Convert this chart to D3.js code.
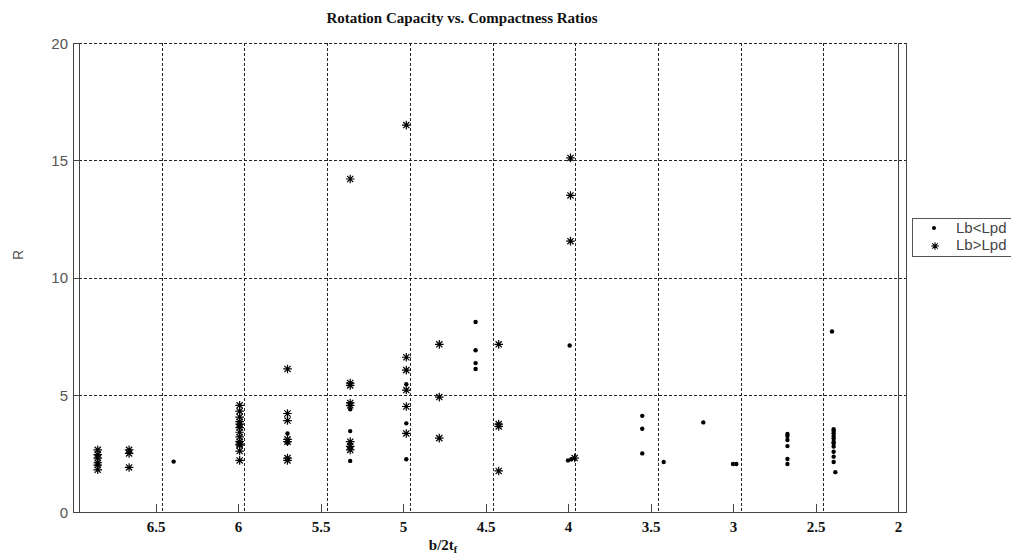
<!DOCTYPE html>
<html><head><meta charset="utf-8">
<script src="https://cdn.jsdelivr.net/npm/d3@7"></script>
<style>html,body{margin:0;padding:0;background:#fff;overflow:hidden}</style>
</head><body>
<svg id="chart" width="1011" height="560"></svg>
<script>
// ---- data ----
const titleText = "Rotation Capacity vs. Compactness Ratios";
const seriesNames = ["Lb<Lpd", "Lb>Lpd"];
const xTickValues = [6.5, 6, 5.5, 5, 4.5, 4, 3.5, 3, 2.5, 2];
const yTickValues = [0, 5, 10, 15, 20];
const gridXValues = [1, 2, 3, 4, 5, 6, 7, 8, 9];
const gridYValues = [5, 10, 15, 20];
// Lb<Lpd : [b/2tf, R]
const lbLessLpd = [
  [6.39, 2.15],
  [5.70, 3.35], [5.70, 2.95],
  [5.32, 4.38], [5.32, 3.45], [5.32, 2.18],
  [4.98, 5.45], [4.98, 3.78], [4.98, 2.25],
  [4.56, 8.1], [4.56, 6.9], [4.56, 6.35], [4.56, 6.1],
  [3.99, 7.1], [4.0, 2.2], [3.98, 2.25],
  [3.55, 4.1], [3.55, 3.55], [3.55, 2.5],
  [3.42, 2.13],
  [3.18, 3.82],
  [3.0, 2.05], [2.98, 2.05],
  [2.67, 3.33], [2.67, 3.24], [2.67, 3.07], [2.67, 2.81], [2.67, 2.26], [2.67, 2.05],
  [2.40, 7.7], [2.39, 3.53], [2.39, 3.45], [2.39, 3.36], [2.39, 3.24], [2.39, 3.14],
  [2.39, 3.0], [2.39, 2.93], [2.39, 2.79], [2.39, 2.57], [2.39, 2.36], [2.39, 2.13], [2.38, 1.7]
];
// Lb>Lpd : [b/2tf, R]
const lbGreaterLpd = [
  [6.85, 2.65], [6.85, 2.45], [6.85, 2.3], [6.85, 2.1], [6.85, 2.0], [6.85, 1.8],
  [6.66, 2.65], [6.66, 2.5], [6.66, 1.9],
  [5.99, 4.55], [5.99, 4.3], [5.99, 4.05], [5.99, 3.85], [5.99, 3.75], [5.99, 3.6],
  [5.99, 3.4], [5.99, 3.2], [5.99, 3.0], [5.99, 2.9], [5.99, 2.85], [5.99, 2.6], [5.99, 2.2],
  [5.70, 6.1], [5.70, 4.2], [5.70, 3.9], [5.70, 3.1], [5.70, 3.0], [5.70, 2.3], [5.70, 2.2],
  [5.32, 14.2], [5.32, 5.5], [5.32, 5.4], [5.32, 4.65], [5.32, 4.55], [5.32, 3.0], [5.32, 2.8], [5.32, 2.65],
  [4.98, 16.5], [4.98, 6.6], [4.98, 6.05], [4.98, 5.2], [4.98, 4.5], [4.98, 3.35],
  [4.78, 7.15], [4.78, 4.9], [4.78, 3.15],
  [4.42, 7.15], [4.42, 3.75], [4.42, 3.65], [4.42, 1.75],
  [3.985, 15.1], [3.985, 13.5], [3.985, 11.55], [3.96, 2.3]
];

// ---- layout ----
const svg = d3.select("#chart");
const A = {left: 73, right: 898, top: 43, bottom: 512};   // axes with ticks
const B = {left: 79, right: 906, top: 43, bottom: 512};   // grid axes

const x = d3.scaleLinear().domain([7, 2]).range([A.left, A.right]);
const y = d3.scaleLinear().domain([0, 20]).range([A.bottom, A.top]);
const gx = d3.scaleLinear().domain([0, 10]).range([B.left, B.right]);

// grid lines (grid axes)
const grid = svg.append("g").attr("stroke", "#222").attr("stroke-width", 1)
  .attr("stroke-dasharray", "3,2").attr("shape-rendering", "crispEdges");
grid.selectAll("line.vx").data(gridXValues).join("line")
  .attr("x1", d => Math.round(gx(d)) + 0.5).attr("x2", d => Math.round(gx(d)) + 0.5)
  .attr("y1", B.top).attr("y2", B.bottom);
grid.selectAll("line.hy").data(gridYValues).join("line")
  .attr("x1", B.left).attr("x2", B.right)
  .attr("y1", d => Math.round(y(d)) + 0.5).attr("y2", d => Math.round(y(d)) + 0.5);

// grid-axes box sides
const frame = svg.append("g").attr("stroke", "#444").attr("stroke-width", 1).attr("shape-rendering", "crispEdges");
frame.append("line").attr("x1", B.left + 0.5).attr("x2", B.left + 0.5).attr("y1", B.top).attr("y2", B.bottom);
frame.append("line").attr("x1", B.right + 0.5).attr("x2", B.right + 0.5).attr("y1", B.top).attr("y2", B.bottom);
// main axes box lines
frame.append("line").attr("x1", A.left + 0.5).attr("x2", A.left + 0.5).attr("y1", A.top).attr("y2", A.bottom);
frame.append("line").attr("x1", A.right + 0.5).attr("x2", A.right + 0.5).attr("y1", A.top).attr("y2", A.bottom);
frame.append("line").attr("x1", A.left).attr("x2", B.right + 1).attr("y1", A.bottom + 0.5).attr("y2", A.bottom + 0.5);

// x axis (ticks inward)
const xAxis = d3.axisBottom(x).tickValues(xTickValues).tickSize(0).tickFormat(d => String(d));
const gxA = svg.append("g").attr("transform", `translate(0,${A.bottom})`).call(xAxis);
gxA.select(".domain").remove();
gxA.selectAll(".tick line").attr("y2", -8).attr("stroke", "#444").attr("shape-rendering", "crispEdges");
gxA.selectAll(".tick text").attr("y", 9).attr("dy", "0.71em")
  .attr("font-family", "'Liberation Serif', 'Times New Roman', serif")
  .attr("font-weight", "bold").attr("font-size", 15).attr("fill", "#111");

// y axis (ticks inward)
const yAxis = d3.axisLeft(y).tickValues(yTickValues).tickSize(0);
const gyA = svg.append("g").attr("transform", `translate(${A.left},0)`).call(yAxis);
gyA.select(".domain").remove();
gyA.selectAll(".tick line").attr("x2", 6).attr("stroke", "#444").attr("shape-rendering", "crispEdges");
gyA.selectAll(".tick text").attr("x", -5).attr("dy", "0.36em")
  .attr("font-family", "'Liberation Sans', Arial, sans-serif")
  .attr("font-size", 15).attr("fill", "#555");

// marks
const star = (r) => `M${-r},0L${r},0M0,${-r}L0,${r}M${-r*0.72},${-r*0.72}L${r*0.72},${r*0.72}M${-r*0.72},${r*0.72}L${r*0.72},${-r*0.72}`;
svg.append("g").selectAll("circle").data(lbLessLpd).join("circle")
  .attr("cx", d => x(d[0])).attr("cy", d => y(d[1])).attr("r", 2.2).attr("fill", "#000");
svg.append("g").selectAll("path").data(lbGreaterLpd).join("path")
  .attr("transform", d => `translate(${x(d[0])},${y(d[1])})`)
  .attr("d", star(4.3)).attr("stroke", "#000").attr("stroke-width", 1.2).attr("fill", "none");

// title
svg.append("text").attr("x", 462).attr("y", 23).attr("text-anchor", "middle")
  .attr("font-family", "'Liberation Serif', 'Times New Roman', serif")
  .attr("font-weight", "bold").attr("font-size", 15).attr("fill", "#111").text(titleText);

// axis labels
const xl = svg.append("text").attr("x", 443).attr("y", 550).attr("text-anchor", "middle")
  .attr("font-family", "'Liberation Serif', 'Times New Roman', serif")
  .attr("font-weight", "bold").attr("font-size", 15).attr("fill", "#111");
xl.append("tspan").text("b/2t");
xl.append("tspan").attr("font-size", 10).attr("dy", 3).text("f");

svg.append("text").attr("transform", "translate(23,255) rotate(-90)").attr("text-anchor", "middle")
  .attr("font-family", "'Liberation Sans', Arial, sans-serif")
  .attr("font-size", 14).attr("fill", "#555").text("R");

// legend
const lg = svg.append("g");
lg.append("rect").attr("x", 912.5).attr("y", 218.5).attr("width", 120).attr("height", 38)
  .attr("fill", "#fff").attr("stroke", "#555").attr("stroke-width", 1);
lg.append("circle").attr("cx", 934).attr("cy", 228).attr("r", 2).attr("fill", "#000");
lg.append("path").attr("transform", "translate(935,246)").attr("d", star(3.8))
  .attr("stroke", "#000").attr("stroke-width", 1.1).attr("fill", "none");
lg.selectAll("text").data(seriesNames).join("text")
  .attr("x", 956).attr("y", (d, i) => 233 + i * 17)
  .attr("font-family", "'Liberation Sans', Arial, sans-serif")
  .attr("font-size", 15).attr("fill", "#444").text(d => d);
</script>
</body></html>
